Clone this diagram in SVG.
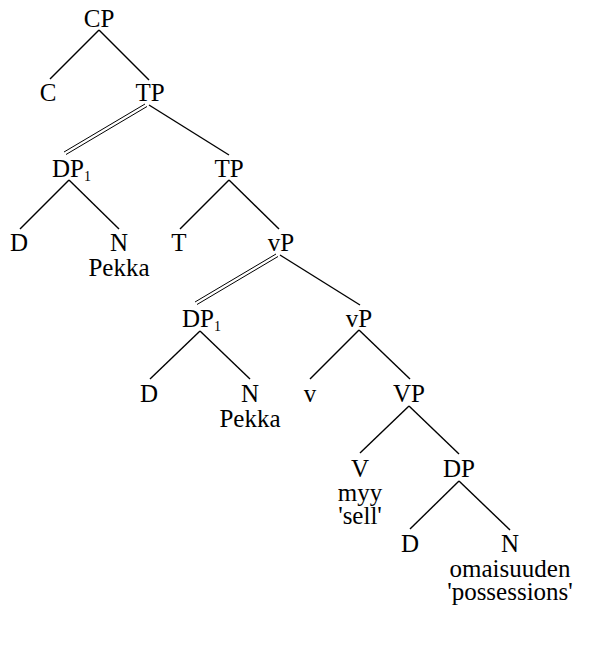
<svg xmlns="http://www.w3.org/2000/svg" width="610" height="645" viewBox="0 0 610 645">
<style>
text{font-family:"Liberation Serif","Times New Roman",serif;font-size:25px;fill:#000;text-anchor:middle}
.sub{font-size:14px;text-anchor:start}
.e line{stroke:#000;stroke-width:1.4}
.e line.d{stroke-width:1}
</style>
<rect width="610" height="645" fill="#fff"/>
<g class="e" id="connectors">
<line x1="99" y1="30" x2="50" y2="79"/>
<line x1="99" y1="30" x2="149" y2="80"/>
<line class="d" x1="145" y1="104" x2="64" y2="152"/>
<line class="d" x1="147" y1="106.5" x2="66" y2="154.5"/>
<line x1="149" y1="105" x2="229" y2="155"/>
<line x1="69" y1="180" x2="20" y2="229"/>
<line x1="69" y1="180" x2="119" y2="229"/>
<line x1="229" y1="180" x2="180" y2="229"/>
<line x1="229" y1="180" x2="279" y2="229"/>
<line class="d" x1="276" y1="254" x2="195" y2="302"/>
<line class="d" x1="278" y1="256.5" x2="197" y2="304.5"/>
<line x1="280" y1="255" x2="360" y2="305"/>
<line x1="200" y1="331" x2="150" y2="379"/>
<line x1="200" y1="331" x2="250" y2="379"/>
<line x1="359" y1="330" x2="310" y2="379"/>
<line x1="359" y1="330" x2="410" y2="379"/>
<line x1="409" y1="406" x2="360" y2="453"/>
<line x1="409" y1="406" x2="459" y2="454"/>
<line x1="459" y1="481" x2="410" y2="529"/>
<line x1="459" y1="481" x2="510" y2="530"/>
</g>
<g id="CP"><text x="99" y="27">CP</text></g>
<g id="C"><text x="48" y="101">C</text></g>
<g id="TP1"><text x="150" y="101">TP</text></g>
<g id="DP1a"><text x="68" y="177">DP</text><text class="sub" x="84" y="181">1</text></g>
<g id="TP2"><text x="229" y="177">TP</text></g>
<g id="D1"><text x="19" y="251">D</text></g>
<g id="N1"><text x="119" y="251">N</text><text x="119" y="276">Pekka</text></g>
<g id="T"><text x="179" y="251">T</text></g>
<g id="vP1"><text x="281" y="251">vP</text></g>
<g id="DP1b"><text x="198" y="327">DP</text><text class="sub" x="214" y="331">1</text></g>
<g id="vP2"><text x="359" y="327">vP</text></g>
<g id="D2"><text x="149" y="402">D</text></g>
<g id="N2"><text x="250" y="402">N</text><text x="250" y="427">Pekka</text></g>
<g id="v"><text x="310" y="402">v</text></g>
<g id="VP"><text x="409" y="402">VP</text></g>
<g id="V"><text x="360" y="477">V</text><text x="360" y="501">myy</text><text x="360" y="524">'sell'</text></g>
<g id="DP"><text x="459" y="477">DP</text></g>
<g id="D3"><text x="410" y="552">D</text></g>
<g id="N3"><text x="510" y="552">N</text><text x="510" y="577">omaisuuden</text><text x="510" y="600">'possessions'</text></g>
</svg>
